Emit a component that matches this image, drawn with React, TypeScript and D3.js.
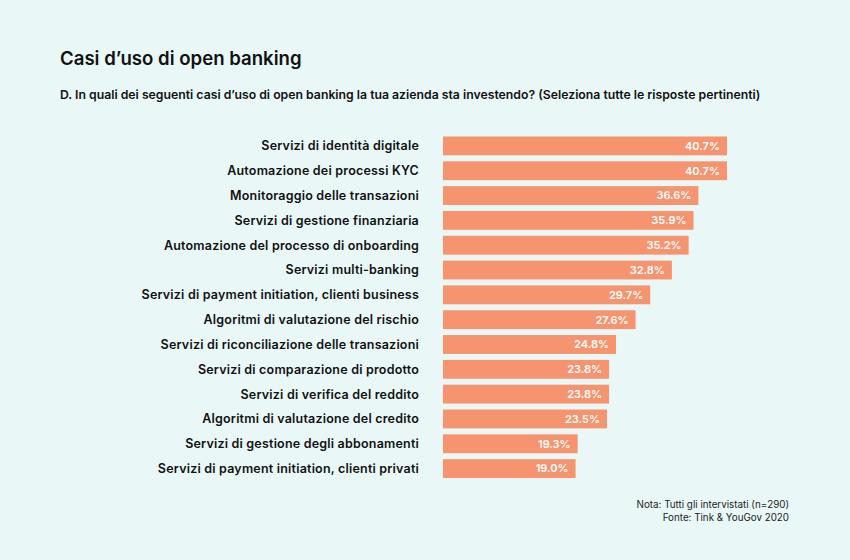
import React from "react";
import * as d3 from "d3";

const categories = [
  "Servizi di identità digitale",
  "Automazione dei processi KYC",
  "Monitoraggio delle transazioni",
  "Servizi di gestione finanziaria",
  "Automazione del processo di onboarding",
  "Servizi multi-banking",
  "Servizi di payment initiation, clienti business",
  "Algoritmi di valutazione del rischio",
  "Servizi di riconciliazione delle transazioni",
  "Servizi di comparazione di prodotto",
  "Servizi di verifica del reddito",
  "Algoritmi di valutazione del credito",
  "Servizi di gestione degli abbonamenti",
  "Servizi di payment initiation, clienti privati",
];
const values = [40.7, 40.7, 36.6, 35.9, 35.2, 32.8, 29.7, 27.6, 24.8, 23.8, 23.8, 23.5, 19.3, 19.0];

const title = "Casi d’uso di open banking";
const subtitle =
  "D. In quali dei seguenti casi d’uso di open banking la tua azienda sta investendo? (Seleziona tutte le risposte pertinenti)";
const notes = ["Nota: Tutti gli intervistati (n=290)", "Fonte: Tink & YouGov 2020"];

const W = 850;
const H = 560;
const FONT = "Inter, 'Open Sans', sans-serif";

export default function App() {
  const x = d3.scaleLinear().domain([0, 40.7]).range([443, 727]);
  const y = d3
    .scaleBand<string>()
    .domain(categories)
    .range([133.5, 481])
    .paddingInner(0.24)
    .paddingOuter(0.12);
  return (
    <svg
      width={W}
      height={H}
      style={{ position: "absolute", left: 0, top: 0, display: "block" }}
      fontFamily={FONT}
    >
      <rect width={W} height={H} fill="#e9f8f7" />
      <text x={60} y={65} fontSize={18.6} fontWeight={600} fill="#111">
        {title}
      </text>
      <text x={60} y={99} fontSize={12.25} fontWeight={600} fill="#111">
        {subtitle}
      </text>
      {categories.map((c, i) => {
        const yy = y(c)!;
        const bh = y.bandwidth();
        return (
          <g key={c}>
            <text
              x={419}
              y={yy + bh / 2}
              dy="0.35em"
              textAnchor="end"
              fontSize={12.5}
              letterSpacing={0.2}
              fontWeight={600}
              fill="#111"
            >
              {c}
            </text>
            <rect x={x(0)} y={yy} width={x(values[i]) - x(0)} height={bh} fill="#f5946f" />
            <text
              x={x(values[i]) - 7}
              y={yy + bh / 2}
              dy="0.35em"
              textAnchor="end"
              fontSize={11}
              fontWeight={600}
              fill="#fff"
            >
              {values[i].toFixed(1)}%
            </text>
          </g>
        );
      })}
      {notes.map((n, i) => (
        <text
          key={n}
          x={789}
          y={508 + i * 13}
          textAnchor="end"
          fontSize={9.8}
          fill="#222"
        >
          {n}
        </text>
      ))}
    </svg>
  );
}
